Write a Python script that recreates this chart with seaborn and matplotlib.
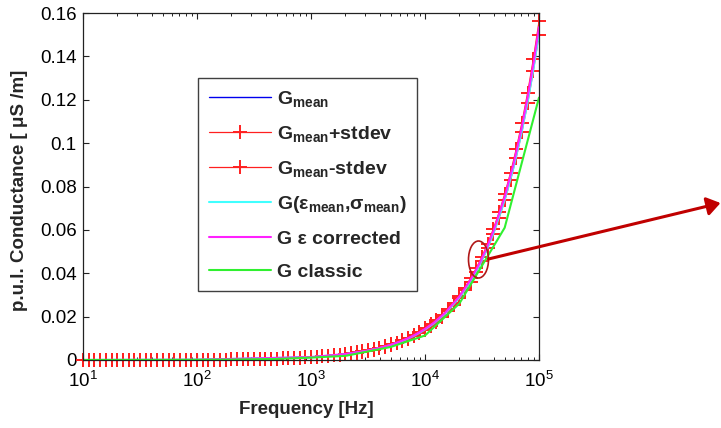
import numpy as np
import matplotlib
matplotlib.use("Agg")
import matplotlib.pyplot as plt
import seaborn as sns
from matplotlib.patches import Ellipse, FancyArrowPatch

# measurement grid, 20 points per decade (10 Hz .. 100 kHz)
freq = np.logspace(1, 5, 81)

g_plus = [0.00001184, 0.00001333, 0.00001501, 0.0000169, 0.000019, 0.0000214, 0.0000241, 0.0000272, 0.0000306, 0.0000344,
          0.0000388, 0.0000436, 0.0000491, 0.0000553, 0.0000623, 0.0000701, 0.000079, 0.0000889, 0.0001001, 0.0001127,
          0.0001268, 0.0001429, 0.0001608, 0.0001811, 0.0002038, 0.0002295, 0.0002583, 0.000291, 0.0003276, 0.0003687,
          0.0004152, 0.0004676, 0.0005265, 0.0005927, 0.0006673, 0.0007512, 0.000846, 0.0009523, 0.001072, 0.001207,
          0.001359, 0.001531, 0.001723, 0.00194, 0.002184, 0.002459, 0.002768, 0.003118, 0.00351, 0.003951,
          0.004449, 0.00501, 0.005641, 0.006351, 0.00715, 0.008049, 0.009065, 0.0102, 0.01149, 0.01294,
          0.01456, 0.0164, 0.01846, 0.02079, 0.0234, 0.02635, 0.02966, 0.03341, 0.03761, 0.04234,
          0.04767, 0.05368, 0.06044, 0.06805, 0.07661, 0.08625, 0.09713, 0.1093, 0.1231, 0.1386,
          0.1561]

g_minus = [0.0000114, 0.0000128, 0.0000144, 0.0000162, 0.0000183, 0.0000206, 0.0000232, 0.0000261, 0.0000294, 0.0000331,
           0.0000372, 0.0000419, 0.0000472, 0.0000531, 0.0000598, 0.0000674, 0.0000759, 0.0000854, 0.0000961, 0.0001083,
           0.0001219, 0.0001372, 0.0001545, 0.0001741, 0.0001959, 0.0002204, 0.0002482, 0.0002796, 0.0003148, 0.0003544,
           0.0003989, 0.0004492, 0.0005057, 0.0005695, 0.0006412, 0.0007218, 0.0008128, 0.000915, 0.00103, 0.00116,
           0.001306, 0.00147, 0.001656, 0.001865, 0.002099, 0.002362, 0.00266, 0.002996, 0.003373, 0.003797,
           0.004274, 0.004813, 0.005419, 0.006102, 0.00687, 0.007734, 0.008709, 0.009804, 0.01104, 0.01243,
           0.01399, 0.01575, 0.01774, 0.01998, 0.02249, 0.02531, 0.0285, 0.0321, 0.03614, 0.04068,
           0.0458, 0.05157, 0.05807, 0.06538, 0.07361, 0.08287, 0.09332, 0.1051, 0.1183, 0.1332,
           0.1499]

freq_line = [10, 100, 1000, 2000, 3000, 4000, 5000, 6000, 7000, 8000, 9000, 10000, 12000, 15000,
             20000, 25000, 30000, 35000, 40000, 50000, 60000, 70000, 80000, 90000, 100000]
g_mean = [0.0000116, 0.000124, 0.00133, 0.00272, 0.00413, 0.00556, 0.00699, 0.00844, 0.00989, 0.01135, 0.01281,
          0.01428, 0.01722, 0.02169, 0.02916, 0.03669, 0.04427, 0.05189, 0.05954, 0.07492, 0.0904, 0.10597,
          0.12158, 0.13726, 0.153]
g_eps_sigma = [0.0000114, 0.000122, 0.00131, 0.00268, 0.00407, 0.00548, 0.00689, 0.00831, 0.00974, 0.01118, 0.01262,
               0.01407, 0.01696, 0.02136, 0.02872, 0.03614, 0.04361, 0.05111, 0.05865, 0.0738, 0.08904, 0.10438,
               0.11976, 0.1352, 0.15071]
g_corrected = [0.0000117, 0.000125, 0.00134, 0.00273, 0.00414, 0.00558, 0.00701, 0.00846, 0.00992, 0.01138, 0.01285,
               0.01432, 0.01727, 0.02175, 0.02925, 0.0368, 0.0444, 0.05205, 0.05972, 0.07515, 0.09067, 0.10629,
               0.12194, 0.13767, 0.15346]

freq_classic = [10, 20, 50, 100, 200, 500, 1000, 2000, 5000, 10000, 20000, 50000, 100000]
g_classic = [0.00001, 0.00002, 0.00005, 0.0001, 0.0002, 0.0005, 0.0011, 0.0019, 0.006, 0.0113, 0.026, 0.061, 0.121]

y_ticks = [0, 0.02, 0.04, 0.06, 0.08, 0.1, 0.12, 0.14, 0.16]
y_tick_labels = ['0', '0.02', '0.04', '0.06', '0.08', '0.1', '0.12', '0.14', '0.16']

labels = [r'G$_{\mathbf{mean}}$',
          r'G$_{\mathbf{mean}}$+stdev',
          r'G$_{\mathbf{mean}}$-stdev',
          r'G(ε$_{\mathbf{mean}}$,σ$_{\mathbf{mean}}$)',
          'G ε corrected',
          'G classic']

sns.set_style("ticks")
plt.rcParams['font.family'] = ['Liberation Sans', 'DejaVu Sans']
plt.rcParams['mathtext.fontset'] = 'custom'
plt.rcParams['mathtext.rm'] = 'Liberation Sans'
plt.rcParams['mathtext.bf'] = 'Liberation Sans:bold'
plt.rcParams['mathtext.it'] = 'Liberation Sans:italic'
plt.rcParams['xtick.direction'] = 'in'
plt.rcParams['ytick.direction'] = 'in'

fig = plt.figure(figsize=(7.21, 4.28), dpi=100)
ax = fig.add_axes([83 / 721, 68 / 428, 456 / 721, 347 / 428])
ax.set_xscale('log')

sns.lineplot(x=freq_line, y=g_mean, ax=ax, color='#0000ee', linewidth=1.0, label=labels[0], errorbar=None)
sns.lineplot(x=freq, y=g_plus, ax=ax, color='#ff2020', linewidth=0.9, marker='+', markersize=10,
             markeredgewidth=1.4, markeredgecolor='#ff2020', clip_on=False, label=labels[1], errorbar=None)
sns.lineplot(x=freq, y=g_minus, ax=ax, color='#ff2020', linewidth=0.9, marker='+', markersize=10,
             markeredgewidth=1.4, markeredgecolor='#ff2020', clip_on=False, label=labels[2], errorbar=None)
sns.lineplot(x=freq_line, y=g_eps_sigma, ax=ax, color='#40ffff', linewidth=1.5, label=labels[3], errorbar=None)
sns.lineplot(x=freq_line, y=g_corrected, ax=ax, color='#ff20ff', linewidth=1.5, label=labels[4], errorbar=None)
sns.lineplot(x=freq_classic, y=g_classic, ax=ax, color='#30f030', linewidth=1.5, label=labels[5], errorbar=None)

ax.set_xlim(10, 1e5)
ax.set_ylim(0, 0.16)
ax.set_yticks(y_ticks, y_tick_labels)
ax.tick_params(axis='both', which='major', labelsize=13.5, length=4.5, width=0.8, pad=4.5,
               top=True, right=True, colors='#222222', labelcolor='black')
ax.tick_params(axis='x', which='major', pad=8)
ax.tick_params(axis='x', which='minor', length=2.5, width=0.7, top=True, colors='#222222')
for s in ax.spines.values():
    s.set_color('#222222')
    s.set_linewidth(0.9)

ax.set_xlabel('Frequency [Hz]', fontsize=13.5, fontweight='bold', va='top')
ax.set_ylabel('p.u.l. Conductance [ μS /m]', fontsize=13.5, fontweight='bold')
ax.xaxis.set_label_coords(0.49, -0.118)
ax.yaxis.set_label_coords(-0.121, 0.49)

leg = ax.legend(loc='upper left', bbox_to_anchor=(0.252, 0.813), borderaxespad=0,
                prop={'size': 14, 'weight': 'bold'}, frameon=True, fancybox=False,
                handlelength=3.2, handletextpad=0.3, labelspacing=0.78, borderpad=0.55)
leg.get_frame().set_edgecolor('#404040')
leg.get_frame().set_linewidth(1.0)
leg.get_frame().set_alpha(1)

# highlight circle and arrow pointing out of the plot
fig.add_artist(Ellipse((478.5 / 721, 1 - 259.5 / 428), 20 / 721, 37 / 428, transform=fig.transFigure,
                       facecolor='none', edgecolor='#b01818', linewidth=1.2))
fig.add_artist(FancyArrowPatch((488.5 / 721, 1 - 259 / 428), (720.5 / 721, 1 - 203 / 428), transform=fig.transFigure,
                               arrowstyle='-|>,head_length=0.8,head_width=0.55', mutation_scale=10,
                               color='#c00000', linewidth=2.2, shrinkA=0, shrinkB=0))

plt.savefig("out.png", dpi=100)
